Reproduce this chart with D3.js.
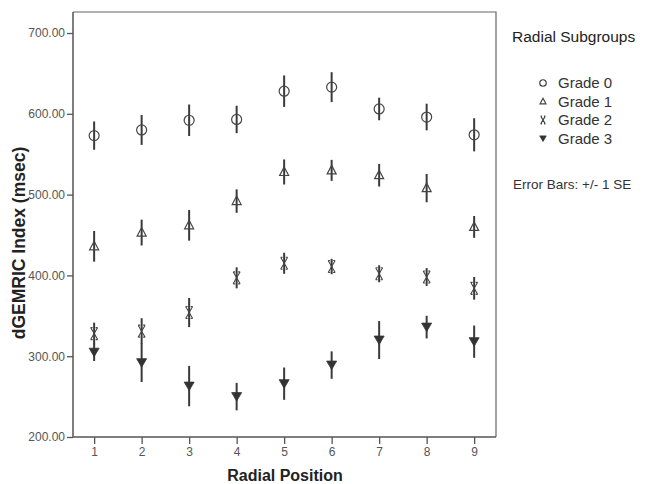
<!DOCTYPE html>
<html><head><meta charset="utf-8">
<script src="https://cdn.jsdelivr.net/npm/d3@7"></script>
<style>body{margin:0;background:#fff}svg{display:block;font-family:"Liberation Sans",Arial,sans-serif}</style>
</head><body><svg id="c" width="648" height="484"></svg>
<script>
const positions = [1,2,3,4,5,6,7,8,9];
const seriesNames = ["Grade 0","Grade 1","Grade 2","Grade 3"];
const grade0Mean = [573, 580, 592, 593, 628, 633, 606, 596, 574];
const grade0SE   = [17.5, 18.5, 19.5, 17, 19.5, 18.5, 14, 16.5, 20.5];
const grade1Mean = [436, 453, 462, 492, 528, 530, 524, 508, 460];
const grade1SE   = [19, 16, 19, 14.5, 15.5, 13, 14, 17.5, 13.5];
const grade2Mean = [328, 331, 354, 397, 415, 411, 402, 398, 384];
const grade2SE   = [13.5, 16, 18, 13, 13, 9.5, 10.5, 11, 14];
const grade3Mean = [305, 292, 263, 250, 266, 289, 320, 336, 318];
const grade3SE   = [11, 24, 25, 17, 20, 17, 23.5, 14, 20];
const yTicks = [200,300,400,500,600,700];

const means = [grade0Mean, grade1Mean, grade2Mean, grade3Mean];
const ses = [grade0SE, grade1SE, grade2SE, grade3SE];

const svg = d3.select("#c");
const L = 73, R = 496, T = 12, B = 437;
const x = d3.scaleLinear().domain([0.555, 9.46]).range([L, R]);
const y = d3.scaleLinear().domain([200, 726]).range([B, T]);
const ink = "#444";

// plot frame (top & right)
svg.append("path").attr("d", `M${L},${T}H${R}V${B}`).attr("fill","none").attr("stroke","#666").attr("stroke-width",1.2);

// axes
const yAx = svg.append("g").attr("transform",`translate(${L},0)`)
  .call(d3.axisLeft(y).tickValues(yTicks).tickFormat(d3.format(".2f")).tickSizeOuter(0).tickSize(6).tickPadding(2));
const xAx = svg.append("g").attr("transform",`translate(0,${B})`)
  .call(d3.axisBottom(x).tickValues(positions).tickFormat(d3.format("d")).tickSizeOuter(0).tickSize(7).tickPadding(3));
[yAx,xAx].forEach(g=>{
  g.select(".domain").attr("stroke","#555").attr("stroke-width",1.5);
  g.selectAll(".tick line").attr("stroke","#555").attr("stroke-width",1.3);
  g.selectAll(".tick text").attr("fill","#555").attr("font-size",12).attr("font-family","Liberation Sans, Arial, sans-serif");
});
xAx.select(".domain").attr("d",`M${L},0H${R}`);
yAx.select(".domain").attr("d",`M0,${B}V${T}`);

// axis titles
svg.append("text").attr("transform","translate(25,243) rotate(-90)").attr("text-anchor","middle")
  .attr("font-size",17.5).attr("font-weight","bold").attr("fill","#222").text("dGEMRIC Index (msec)");
svg.append("text").attr("x",285).attr("y",481).attr("text-anchor","middle")
  .attr("font-size",16).attr("font-weight","bold").attr("fill","#222").text("Radial Position");

// marker shapes
function marker(g, k, s){
  if(k===0){
    g.append("circle").attr("r",5*s).attr("fill","none").attr("stroke",ink).attr("stroke-width",1.2);
  } else if(k===1){
    g.append("path").attr("d",`M0,${-5*s}L${4.5*s},${3.5*s}L${-4.5*s},${3.5*s}Z`).attr("fill","none").attr("stroke",ink).attr("stroke-width",1.2);
  } else if(k===2){
    g.append("path").attr("d",`M${-3.5*s},${-6*s}L${3.5*s},${6*s}M${3.5*s},${-6*s}L${-3.5*s},${6*s}M${-3.5*s},${-6*s}H${-1.5*s}M${3.5*s},${-6*s}H${1.5*s}M${-3.5*s},${6*s}H${-1.5*s}M${3.5*s},${6*s}H${1.5*s}`)
      .attr("fill","none").attr("stroke",ink).attr("stroke-width",1.1);
  } else {
    g.append("path").attr("d",`M${-5*s},${-4*s}L${5*s},${-4*s}L0,${4.5*s}Z`).attr("fill","#333").attr("stroke","#333").attr("stroke-width",0.8);
  }
}

// error bars + markers
means.forEach((m,k)=>{
  const g = svg.append("g");
  positions.forEach((p,i)=>{
    g.append("line").attr("x1",x(p)).attr("x2",x(p))
      .attr("y1",y(m[i]-ses[k][i])).attr("y2",y(m[i]+ses[k][i]))
      .attr("stroke","#3a3a3a").attr("stroke-width",2);
    marker(g.append("g").attr("transform",`translate(${x(p)},${y(m[i])})`), k, 1);
  });
});

// legend
svg.append("text").attr("x",512).attr("y",42).attr("font-size",15.5).attr("fill","#222").text("Radial Subgroups");
seriesNames.forEach((n,k)=>{
  const yy = 88 + k*18.5;
  marker(svg.append("g").attr("transform",`translate(543,${yy-5})`), k, 0.65);
  svg.append("text").attr("x",558).attr("y",yy).attr("font-size",15).attr("fill","#333").text(n);
});
svg.append("text").attr("x",513).attr("y",189).attr("font-size",13.5).attr("fill","#333").text("Error Bars: +/- 1 SE");
</script></body></html>
